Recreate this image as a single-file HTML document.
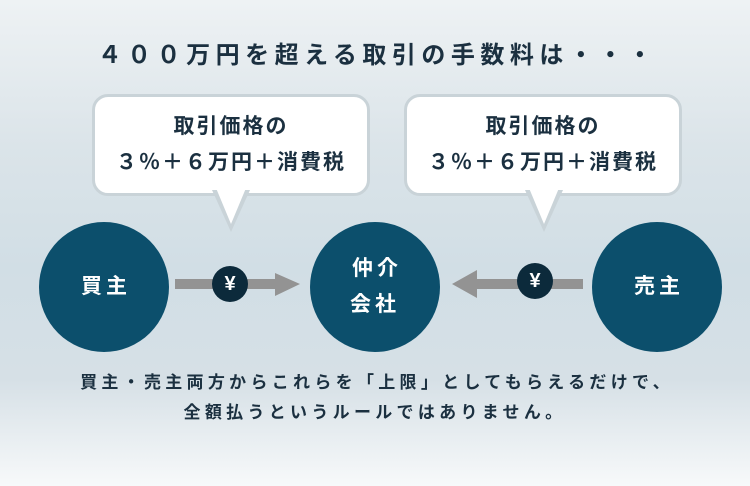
<!DOCTYPE html>
<html><head><meta charset="utf-8"><style>
body{margin:0;width:750px;height:486px;overflow:hidden;font-family:"Liberation Sans","Noto Sans CJK JP",sans-serif;font-weight:bold;
background:linear-gradient(180deg,#eef2f4 0%,#dbe4e9 30%,#d1dee5 55%,#d6e0e6 78%,#f7f9fa 100%);position:relative;color:#1b3040}
.t{position:absolute;left:0;width:750px;text-align:center}
.c{position:absolute;width:130px;height:130px;border-radius:50%;background:#0c4f6c;color:#fff;display:flex;align-items:center;justify-content:center;text-align:center;font-size:21px;letter-spacing:4px;line-height:36px;text-indent:4px}
.b{position:absolute;top:94px;width:272px;background:#fff;border:3px solid #c9d3d8;border-radius:16px;text-align:center;font-size:21px;letter-spacing:2px;line-height:36px;padding-top:12px;height:84px}
.y{position:absolute;width:36px;height:36px;border-radius:50%;background:#0c2a3b;color:#fff;font-size:20px;text-align:center;line-height:36px}
</style></head><body>
<div class="t" style="top:35px;font-size:24px;letter-spacing:5.5px;text-indent:5px">４００万円を超える取引の手数料は・・・</div>
<div class="b" style="left:92px">取引価格の<br>３％＋６万円＋消費税</div>
<div class="b" style="left:404px">取引価格の<br>３％＋６万円＋消費税</div>
<svg style="position:absolute;left:0;top:0" width="750" height="486">
<polygon points="212,190 250,190 231,232" fill="#c9d3d8"/>
<polygon points="216,188 246,188 231,224" fill="#fff"/>
<polygon points="525,190 563,190 544,232" fill="#c9d3d8"/>
<polygon points="529,188 559,188 544,224" fill="#fff"/>
<rect x="175" y="279" width="102" height="10" fill="#939393"/>
<polygon points="275,273 300,284 275,296" fill="#939393"/>
<rect x="476" y="279" width="107" height="10" fill="#939393"/>
<polygon points="477,270 452,284 477,298" fill="#939393"/>
</svg>
<div class="y" style="left:212px;top:266px">¥</div>
<div class="y" style="left:517px;top:263px">¥</div>
<div class="c" style="left:39px;top:222px">買主</div>
<div class="c" style="left:310px;top:222px">仲介<br>会社</div>
<div class="c" style="left:592px;top:222px">売主</div>
<div class="t" style="top:368px;font-size:17px;letter-spacing:4.3px;line-height:30px;text-indent:4px">買主・売主両方からこれらを「上限」としてもらえるだけで、<br>全額払うというルールではありません。</div>
</body></html>
